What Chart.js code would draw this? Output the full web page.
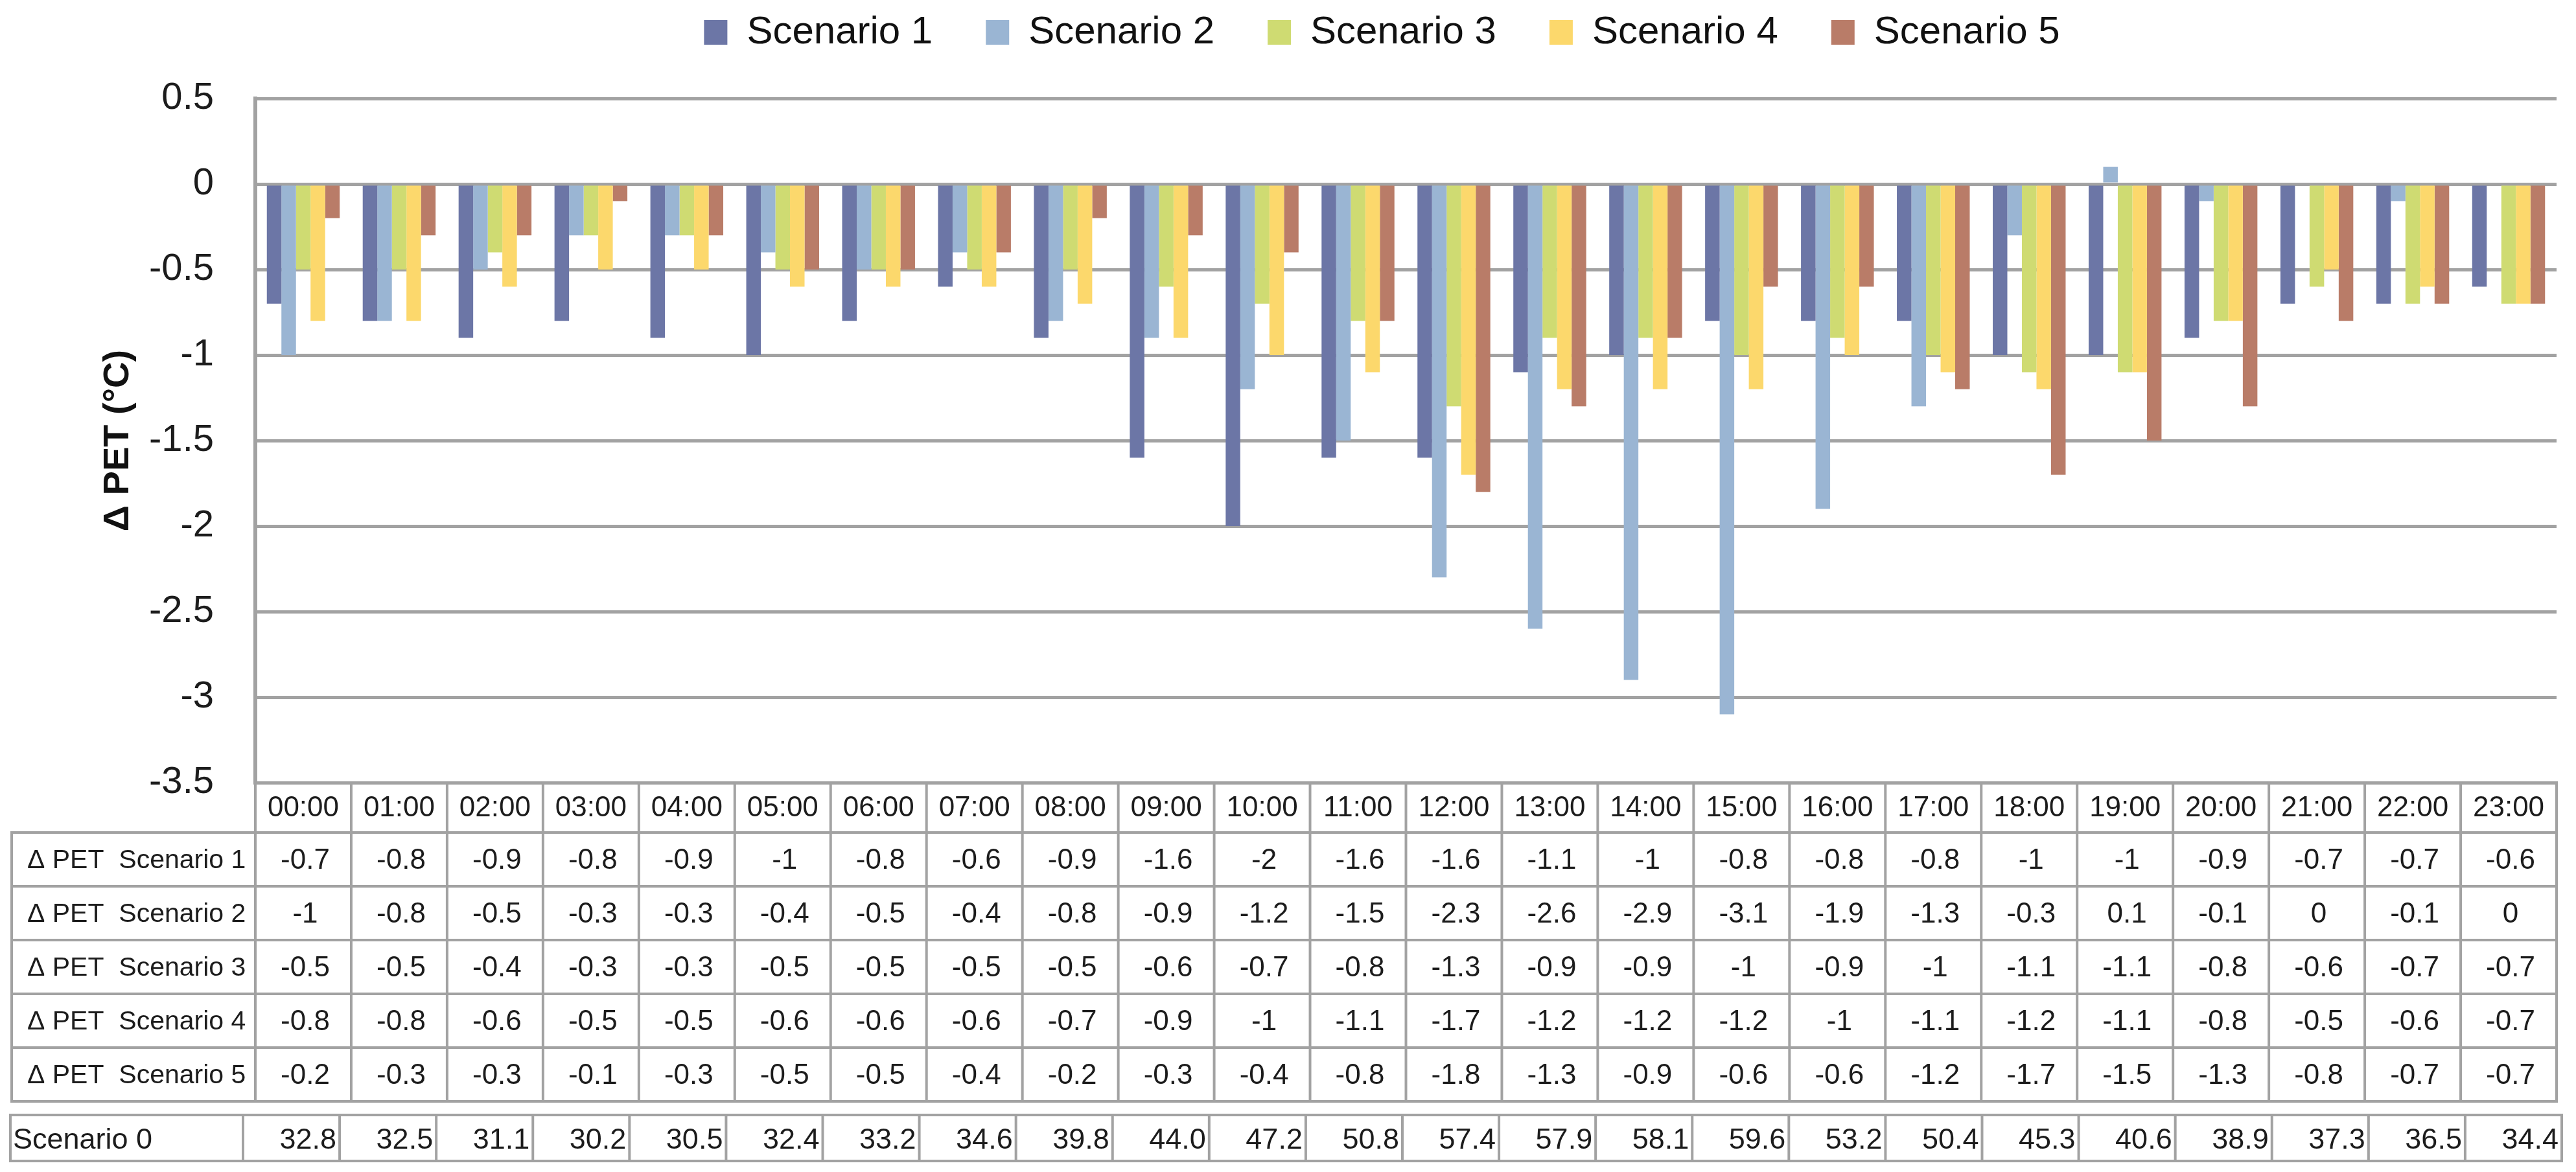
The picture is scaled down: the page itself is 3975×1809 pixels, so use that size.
<!DOCTYPE html>
<html>
<head>
<meta charset="utf-8">
<script src="https://cdn.jsdelivr.net/npm/chart.js@4.4.1/dist/chart.umd.min.js"></script>
<style>
  html, body { margin: 0; padding: 0; background: #ffffff; }
  #wrap { width: 3975px; height: 1809px; }
</style>
</head>
<body>
<div id="wrap"><canvas id="c" width="3975" height="1809"></canvas></div>
<script>
// ---- data ----
const hours = ['00:00','01:00','02:00','03:00','04:00','05:00','06:00','07:00','08:00','09:00','10:00','11:00',
               '12:00','13:00','14:00','15:00','16:00','17:00','18:00','19:00','20:00','21:00','22:00','23:00'];
const seriesNames = ['Scenario 1','Scenario 2','Scenario 3','Scenario 4','Scenario 5'];
const rowLabels = ['\u0394 PET  Scenario 1','\u0394 PET  Scenario 2','\u0394 PET  Scenario 3','\u0394 PET  Scenario 4','\u0394 PET  Scenario 5'];
const scenario1 = [-0.7,-0.8,-0.9,-0.8,-0.9,-1,-0.8,-0.6,-0.9,-1.6,-2,-1.6,-1.6,-1.1,-1,-0.8,-0.8,-0.8,-1,-1,-0.9,-0.7,-0.7,-0.6];
const scenario2 = [-1,-0.8,-0.5,-0.3,-0.3,-0.4,-0.5,-0.4,-0.8,-0.9,-1.2,-1.5,-2.3,-2.6,-2.9,-3.1,-1.9,-1.3,-0.3,0.1,-0.1,0,-0.1,0];
const scenario3 = [-0.5,-0.5,-0.4,-0.3,-0.3,-0.5,-0.5,-0.5,-0.5,-0.6,-0.7,-0.8,-1.3,-0.9,-0.9,-1,-0.9,-1,-1.1,-1.1,-0.8,-0.6,-0.7,-0.7];
const scenario4 = [-0.8,-0.8,-0.6,-0.5,-0.5,-0.6,-0.6,-0.6,-0.7,-0.9,-1,-1.1,-1.7,-1.2,-1.2,-1.2,-1,-1.1,-1.2,-1.1,-0.8,-0.5,-0.6,-0.7];
const scenario5 = [-0.2,-0.3,-0.3,-0.1,-0.3,-0.5,-0.5,-0.4,-0.2,-0.3,-0.4,-0.8,-1.8,-1.3,-0.9,-0.6,-0.6,-1.2,-1.7,-1.5,-1.3,-0.8,-0.7,-0.7];
const scenario0Label = 'Scenario 0';
const scenario0 = [32.8,32.5,31.1,30.2,30.5,32.4,33.2,34.6,39.8,44.0,47.2,50.8,57.4,57.9,58.1,59.6,53.2,50.4,45.3,40.6,38.9,37.3,36.5,34.4];
const yTitle = '\u0394 PET (\u00B0C)';
const yMin = -3.5, yMax = 0.5, yStep = 0.5;

// ---- styles ----
const colors = ['#6c76a6','#9ab5d3','#cfdb72','#fcd86c','#b97c68'];
const FONT = "'Liberation Sans', Arial, sans-serif";
const gridColor = '#a2a2a2';
const textColor = '#1c1c1c';

const seriesValues = [scenario1, scenario2, scenario3, scenario4, scenario5];

const tablePlugin = {
  id: 'dataTable',
  afterLayout(chart) {
    const lg = chart.legend;
    if (lg) {
      const dy = -62, dx = -37;
      lg.top += dy; lg.bottom += dy; lg.left += dx; lg.right += dx;
    }
  },
  afterDraw(chart) {
    const ctx = chart.ctx;
    const xs = chart.scales.x;
    const n = hours.length;
    const colW = (xs.right - xs.left) / n;
    const headTop = chart.chartArea.bottom;
    const headBottom = headTop + 77;
    const rowH = 83;
    const tableLeft = 18;
    const tableBottom = headBottom + rowH * seriesValues.length;
    const s0Top = tableBottom + 21, s0Bottom = s0Top + 71;
    const s0Left = 16, s0First = xs.left - 19, s0Right = xs.right + 8;

    ctx.save();
    ctx.strokeStyle = gridColor;
    ctx.lineWidth = 4;
    ctx.lineCap = 'square';
    const line = (x1, y1, x2, y2) => { ctx.beginPath(); ctx.moveTo(x1, y1); ctx.lineTo(x2, y2); ctx.stroke(); };

    // main table grid
    for (let i = 0; i <= n; i++) {
      const cx = xs.getPixelForValue(i) - colW / 2;
      const bx = i === n ? xs.right : cx;
      line(bx, headTop, bx, tableBottom);
    }
    line(tableLeft, headBottom, tableLeft, tableBottom);
    for (let r = 0; r <= seriesValues.length; r++) {
      const y = headBottom + r * rowH;
      line(tableLeft, y, xs.right, y);
    }
    line(xs.left, headTop, xs.left, tableBottom);

    // scenario 0 row grid
    const s0W = (s0Right - s0First) / n;
    line(s0Left, s0Top, s0Right, s0Top);
    line(s0Left, s0Bottom, s0Right, s0Bottom);
    line(s0Left, s0Top, s0Left, s0Bottom);
    for (let i = 0; i <= n; i++) {
      const bx = s0First + i * s0W;
      line(bx, s0Top, bx, s0Bottom);
    }

    // text
    ctx.fillStyle = textColor;
    ctx.textBaseline = 'middle';
    ctx.font = '41px ' + FONT;
    ctx.textAlign = 'left';
    for (let r = 0; r < seriesValues.length; r++) {
      const yc = headBottom + r * rowH + rowH / 2 + 2;
      ctx.fillText(rowLabels[r], 42, yc);
    }
    ctx.font = '44px ' + FONT;
    ctx.textAlign = 'center';
    for (let r = 0; r < seriesValues.length; r++) {
      const yc = headBottom + r * rowH + rowH / 2 + 2;
      for (let i = 0; i < n; i++) {
        ctx.fillText(String(seriesValues[r][i]), xs.getPixelForValue(i) + 3, yc);
      }
    }
    const s0y = (s0Top + s0Bottom) / 2 + 4;
    ctx.font = '45px ' + FONT;
    ctx.textAlign = 'left';
    ctx.fillText(scenario0Label, 20, s0y);
    ctx.textAlign = 'right';
    for (let i = 0; i < n; i++) {
      ctx.fillText(scenario0[i].toFixed(1), s0First + (i + 1) * s0W - 5, s0y);
    }
    ctx.restore();
  }
};

const datasets = seriesNames.map((name, k) => ({
  label: name,
  data: seriesValues[k],
  backgroundColor: colors[k],
  borderWidth: 0,
  categoryPercentage: 0.76,
  barPercentage: 1.0
}));

new Chart(document.getElementById('c'), {
  type: 'bar',
  data: { labels: hours, datasets },
  options: {
    responsive: false,
    animation: false,
    devicePixelRatio: 1,
    layout: { padding: { left: 0, right: 30, top: 0, bottom: 0 } },
    plugins: {
      legend: {
        display: true,
        position: 'top',
        fullSize: false,
        labels: {
          boxWidth: 36,
          boxHeight: 38,
          padding: 82,
          color: '#111111',
          font: { family: FONT, size: 60 }
        }
      },
      tooltip: { enabled: false }
    },
    scales: {
      x: {
        grid: { display: false, drawTicks: false },
        border: { display: true, color: gridColor, width: 5 },
        ticks: {
          color: textColor,
          padding: 13,
          maxRotation: 0,
          autoSkip: false,
          font: { family: FONT, size: 44 }
        },
        afterFit(scale) { scale.height = 601; }
      },
      y: {
        min: yMin,
        max: yMax,
        grid: { color: gridColor, lineWidth: 5, drawTicks: false },
        border: { display: true, color: gridColor, width: 6 },
        ticks: {
          stepSize: yStep,
          color: textColor,
          padding: 64,
          font: { family: FONT, size: 58 },
          callback: (v) => String(Math.round(v * 10) / 10)
        },
        title: {
          display: true,
          text: yTitle,
          color: '#111111',
          padding: { top: 149, bottom: 0 },
          font: { family: FONT, size: 56, weight: 'bold' }
        },
        afterFit(scale) { scale.width = 394; }
      }
    }
  },
  plugins: [tablePlugin]
});
</script>
</body>
</html>
